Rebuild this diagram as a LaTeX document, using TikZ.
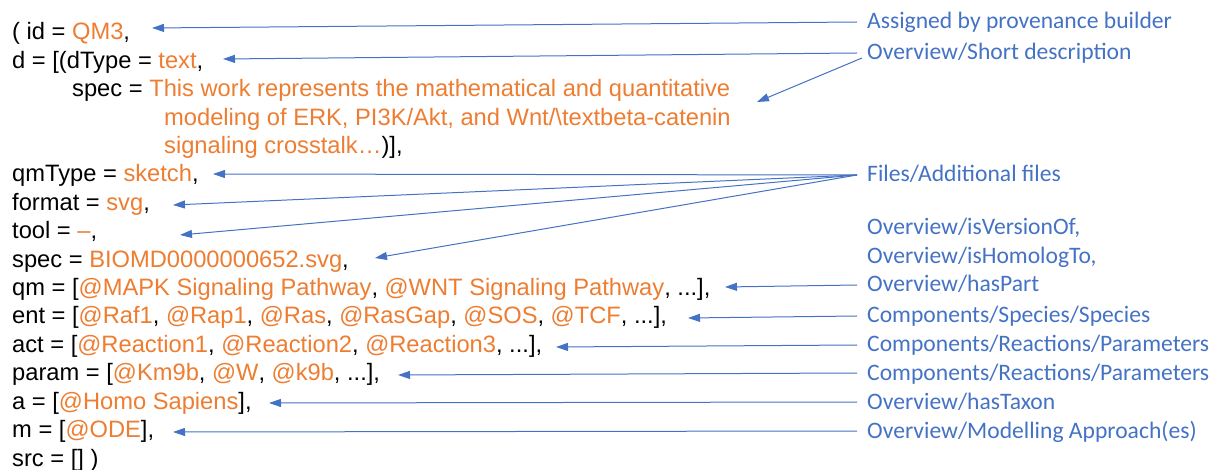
\documentclass[tikz,border=0pt]{standalone}
\usepackage{fontspec}
\setmainfont{Liberation Sans}
\newfontfamily\calib{Carlito}
\usetikzlibrary{arrows.meta}
\definecolor{ofOrange}{HTML}{ED7D31}
\definecolor{ofBlue}{HTML}{4472C4}
\newcommand{\og}[1]{\textcolor{ofOrange}{#1}}
\begin{document}
\begin{tikzpicture}[x=1pt,y=-1pt,
  code/.style={anchor=base west, inner sep=0pt, font=\fontsize{23.7}{28.4}\selectfont, text=black},
  lab/.style={anchor=base west, inner xsep=10pt, inner ysep=0pt, text height=14pt, text depth=0pt, font=\calib\fontsize{23.6}{28.8}\selectfont, text=ofBlue},
  link/.style={draw=ofBlue, line width=1pt, -{Triangle[length=12pt,width=8pt]}}]
\useasboundingbox (0,0) rectangle (1213,470);
% left code lines
\node[code] (l1) at (12,40) {( id = \og{QM3},};
\node[code] (l2) at (12,68.4) {d = [(dType = \og{text},};
\node[code] (l3) at (72,96.8) {spec = \og{This work represents the mathematical and quantitative}};
\node[code] (l4) at (164,125.2) {\og{modeling of ERK, PI3K/Akt, and Wnt/\textbackslash textbeta-catenin}};
\node[code] (l5) at (164,153.6) {\og{signaling crosstalk…})],};
\node[code] (l6) at (12,182) {qmType = \og{sketch},};
\node[code] (l7) at (12,210.4) {format = \og{svg},};
\node[code] (l8) at (12,238.8) {tool = \og{–},};
\node[code] (l9) at (12,267.2) {spec = \og{BIOMD0000000652.svg},};
\node[code] (l10) at (12,295.6) {qm = [\og{@MAPK Signaling Pathway}, \og{@WNT Signaling Pathway}, ...],};
\node[code] (l11) at (12,324) {ent = [\og{@Raf1}, \og{@Rap1}, \og{@Ras}, \og{@RasGap}, \og{@SOS}, \og{@TCF}, ...],};
\node[code] (l12) at (12,352.4) {act = [\og{@Reaction1}, \og{@Reaction2}, \og{@Reaction3}, ...],};
\node[code] (l13) at (12,380.8) {param = [\og{@Km9b}, \og{@W}, \og{@k9b}, ...],};
\node[code] (l14) at (12,409.2) {a = [\og{@Homo Sapiens}],};
\node[code] (l15) at (12,437.6) {m = [\og{@ODE}],};
\node[code] (l16) at (12,466) {src = [] )};
% right labels
\node[lab] (r1) at (857,29) {Assigned by provenance builder};
\node[lab] (r2) at (857,60) {Overview/Short description};
\node[lab] (r3) at (857,182) {Files/Additional files};
\node[lab] (r4a) at (857,235) {Overview/isVersionOf,};
\node[lab] (r4b) at (857,263.5) {Overview/isHomologTo,};
\node[lab] (r4) at (857,292) {Overview/hasPart};
\node[lab] (r5) at (857,323) {Components/Species/Species};
\node[lab] (r6) at (857,352) {Components/Reactions/Parameters};
\node[lab] (r7) at (857,380) {Components/Reactions/Parameters};
\node[lab] (r8) at (857,409) {Overview/hasTaxon};
\node[lab] (r9) at (857,438) {Overview/Modelling Approach(es)};
% arrow targets
\coordinate (t1) at (152,28);
\coordinate (t2) at (223,59);
\coordinate (t3) at (757,102);
\coordinate (t6) at (213,174);
\coordinate (t7) at (173,205);
\coordinate (t8) at (180,235);
\coordinate (t9) at (375,258);
\coordinate (t10) at (725,287);
\coordinate (t11) at (688,318);
\coordinate (t12) at (556,347);
\coordinate (t13) at (398,375);
\coordinate (t14) at (269,403);
\coordinate (t15) at (173,432);
% arrows
\draw[link] (r1.west) -- (t1);
\draw[link] (r2.west) -- (t2);
\draw[link] ([shift={(5,5)}]r2.west) -- (t3);
\draw[link] (r3.west) -- (t6);
\draw[link] (r3.west) -- (t7);
\draw[link] (r3.west) -- (t8);
\draw[link] (r3.west) -- (t9);
\draw[link] (r4.west) -- (t10);
\draw[link] (r5.west) -- (t11);
\draw[link] (r6.west) -- (t12);
\draw[link] (r7.west) -- (t13);
\draw[link] (r8.west) -- (t14);
\draw[link] (r9.west) -- (t15);
\end{tikzpicture}
\end{document}
